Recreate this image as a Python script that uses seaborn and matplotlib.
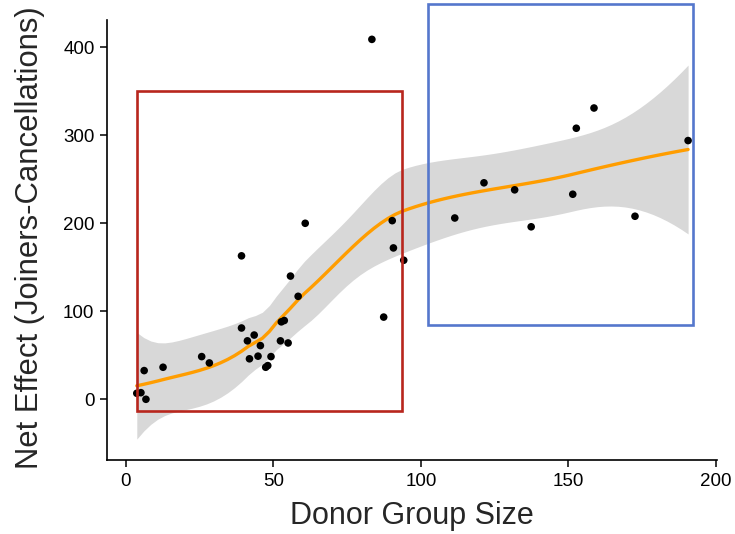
import numpy as np
import pandas as pd
import matplotlib
matplotlib.use("Agg")
import matplotlib.pyplot as plt
from matplotlib.patches import Rectangle
import seaborn as sns

# Donor group size vs. net effect (joiners minus cancellations)
donor_size = [3.7, 5.1, 6.8, 6.2, 12.6, 25.7, 28.3, 39.2, 39.2, 41.2, 43.5, 45.6,
              41.9, 44.8, 49.2, 47.4, 48.1, 52.4, 55.0, 52.7, 53.7, 58.4, 55.8,
              60.8, 83.4, 87.4, 90.3, 90.7, 94.2, 111.5, 121.4, 131.8, 137.4,
              151.5, 152.7, 158.7, 172.6, 190.6]
net_effect = [6.8, 7.5, 0.0, 32.6, 36.4, 48.5, 41.3, 163, 81, 66.4, 73, 61,
              46, 49, 48.5, 36.4, 38.3, 66.4, 64, 88, 89.5, 117, 140,
              200, 409, 93.4, 203, 172, 158, 206, 246, 238, 196,
              233, 308, 331, 208, 294]

# Highlight boxes: (x0, x1, y0, y1)
small_groups_box = (3.7, 93.6, -13, 350)
large_groups_box = (102.5, 192.2, 84.6, 449)

x_ticks = [0, 50, 100, 150, 200]
y_ticks = [0, 100, 200, 300, 400]


def loess_fit(x, y, grid, span=0.75, cell=0.2):
    """Local quadratic loess (tricube weights) evaluated on a kd-tree of
    vertices and blended with cubic Hermite interpolation; 95% pointwise CI."""
    x = np.asarray(x, float)
    y = np.asarray(y, float)
    n = len(x)
    q = int(np.floor(span * n))
    fc = int(np.floor(n * span * cell))

    def local_rows(x0):
        d = np.abs(x - x0)
        h = np.sort(d)[q - 1]
        u = np.clip(d / h, 0, 1)
        w = (1 - u ** 3) ** 3
        X = np.column_stack([np.ones(n), x - x0, (x - x0) ** 2])
        XtW = X.T * w
        S = np.linalg.solve(XtW @ X, XtW)
        return S[0], S[1]          # value row, slope row

    # kd-tree cut points (cells split at the median observation)
    xs = np.sort(x)
    mu = 0.005 * (xs[-1] - xs[0])
    verts = [xs[0] - mu, xs[-1] + mu]

    def split(pts):
        if len(pts) <= fc:
            return
        m = (len(pts) - 1) // 2
        while m + 1 < len(pts) and pts[m] == pts[m + 1]:
            m += 1
        if m + 1 >= len(pts):
            return
        verts.append(pts[m])
        split(pts[:m + 1])
        split(pts[m + 1:])

    split(xs)
    verts = np.array(sorted(set(verts)))
    vrows = [local_rows(v) for v in verts]

    def interp_row(x0):
        i = int(np.clip(np.searchsorted(verts, x0) - 1, 0, len(verts) - 2))
        v0, v1 = verts[i], verts[i + 1]
        h = v1 - v0
        t = (x0 - v0) / h
        h00 = 2 * t ** 3 - 3 * t ** 2 + 1
        h10 = t ** 3 - 2 * t ** 2 + t
        h01 = -2 * t ** 3 + 3 * t ** 2
        h11 = t ** 3 - t ** 2
        f0, d0 = vrows[i]
        f1, d1 = vrows[i + 1]
        return h00 * f0 + h10 * h * d0 + h01 * f1 + h11 * h * d1

    L = np.array([interp_row(xi) for xi in x])
    resid = y - L @ y
    M = np.eye(n) - L
    MtM = M.T @ M
    delta1 = np.trace(MtM)
    delta2 = np.trace(MtM @ MtM)
    sigma = np.sqrt(np.sum(resid ** 2) / delta1)
    dof = delta1 ** 2 / delta2

    z = 1.959963985
    tq = (z + (z ** 3 + z) / (4 * dof)
          + (5 * z ** 5 + 16 * z ** 3 + 3 * z) / (96 * dof ** 2)
          + (3 * z ** 7 + 19 * z ** 5 + 17 * z ** 3 - 15 * z) / (384 * dof ** 3))

    rows = np.array([interp_row(g) for g in grid])
    fit = rows @ y
    se = sigma * np.sqrt(np.sum(rows ** 2, axis=1))
    return fit, fit - tq * se, fit + tq * se


df_points = pd.DataFrame({"size": donor_size, "net": net_effect})
grid = np.linspace(min(donor_size), max(donor_size), 80)
fit, lo, hi = loess_fit(donor_size, net_effect, grid)
df_fit = pd.DataFrame({"size": grid, "net": fit})

sns.set_style("ticks")
plt.rcParams["font.family"] = ["Liberation Sans", "DejaVu Sans"]

fig = plt.figure(figsize=(7.35, 5.34), dpi=100)
ax = fig.add_axes([107 / 735, 1 - 460 / 534, 610 / 735, 440 / 534])

ax.fill_between(grid, lo, hi, color="#d8d8d8", linewidth=0, zorder=1)
sns.lineplot(data=df_fit, x="size", y="net", ax=ax, color="#ff9d00",
             linewidth=2.4, zorder=3)
sns.scatterplot(data=df_points, x="size", y="net", ax=ax, color="black",
                s=30, edgecolor="none", zorder=4)

for (x0, x1, y0, y1), col in [(small_groups_box, "#b8261d"),
                              (large_groups_box, "#5577cc")]:
    ax.add_patch(Rectangle((x0, y0), x1 - x0, y1 - y0, fill=False,
                           edgecolor=col, linewidth=1.9, zorder=5,
                           clip_on=False))

ax.set_xlim(-6.4, 200.4)
ax.set_ylim(-69, 431)
ax.set_xticks(x_ticks)
ax.set_yticks(y_ticks)
ax.tick_params(axis="both", which="major", length=5, width=1.1,
               color="black", labelsize=13.5, labelcolor="black", pad=4)
for side in ["left", "bottom"]:
    ax.spines[side].set_linewidth(1.2)
    ax.spines[side].set_color("black")
sns.despine(ax=ax)

ax.set_xlabel("Donor Group Size", fontsize=22, labelpad=8)
ax.set_ylabel("Net Effect (Joiners-Cancellations)", fontsize=22.3)
ax.yaxis.set_label_coords(-62 / 610, 0.505)

fig.savefig("out.png", dpi=100)
